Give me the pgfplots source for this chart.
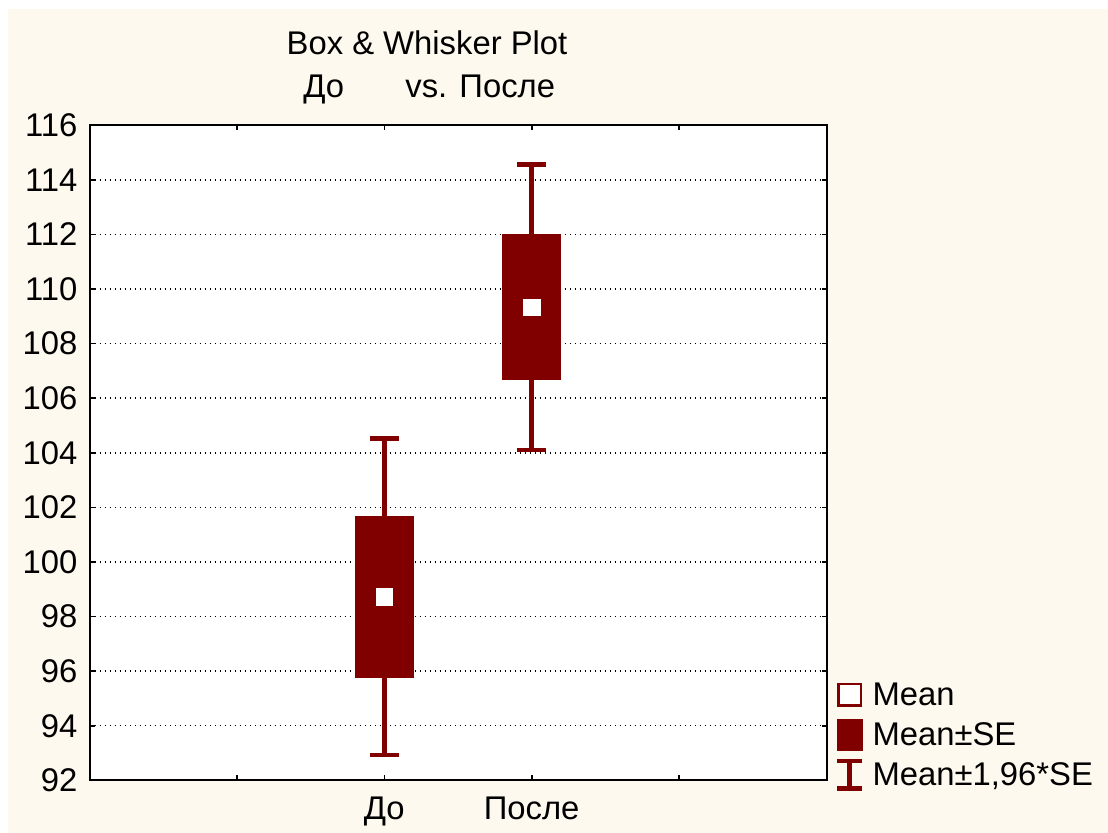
\documentclass[border=0pt]{standalone}
\usepackage{fontspec}
\setmainfont{Liberation Sans}
\usepackage{pgfplots}
\pgfplotsset{compat=1.18}
\definecolor{boxred}{RGB}{128,0,0}
\definecolor{panel}{RGB}{254,249,238}
\newcommand{\legstrut}{\rule[-4pt]{0pt}{16pt}}

\begin{document}
\begin{tikzpicture}[font=\fontsize{16.4}{19}\selectfont]
\path[use as bounding box] (0,0) rectangle (554pt,416.5pt);
\fill[panel] (4pt,0) rectangle (554pt,412pt);

% title
\node[anchor=base, inner sep=0pt] at (213.5pt,389pt) {Box \& Whisker Plot};
\node[anchor=base west, inner sep=0pt] at (151.5pt,367.5pt) {До};
\node[anchor=base west, inner sep=0pt] at (202.5pt,367.5pt) {vs. После};

\begin{axis}[
  at={(44.75pt,26.35pt)}, anchor=south west,
  scale only axis, width=368.5pt, height=327.5pt,
  axis background/.style={fill=white},
  xmin=0, xmax=5, ymin=92, ymax=116,
  xtick={1,2,3,4}, xticklabels={,До,После,},
  ytick={92,94,...,116},
  tick align=inside, major tick length=2.5pt,
  tick style={black, line width=0.8pt},
  axis line style={black, line width=1pt},
  ymajorgrids,
  grid style={black, line width=0.75pt, dash pattern=on 0.75pt off 1.75pt},
  /pgf/number format/assume math mode=true,
  ticklabel style={font=\fontsize{16.4}{19}\selectfont},
  yticklabel style={xshift=-2.5pt},
  xticklabel style={yshift=-5pt},
  legend style={at={(1,0)}, anchor=south west, xshift=4pt, yshift=-6.25pt,
    draw=none, fill=none, inner sep=0pt, row sep=2.5pt, column sep=2pt,
    font=\fontsize{16.4}{19}\selectfont},
  legend cell align=left,
]

\addlegendimage{legend image code/.code={
  \draw[boxred, line width=1.35pt, fill=white] (0.675pt,-5.4pt) rectangle (11.825pt,5.4pt);}}
\addlegendentry{\legstrut Mean}
\addlegendimage{legend image code/.code={
  \fill[boxred] (0,-7.75pt) rectangle (12.5pt,7.75pt);}}
\addlegendentry{\legstrut Mean±SE}
\addlegendimage{legend image code/.code={
  \draw[boxred, line width=2.3pt] (0,-6.85pt) -- (12.5pt,-6.85pt)
       (6.25pt,-6.85pt) -- (6.25pt,6.85pt) (0,6.85pt) -- (12.5pt,6.85pt);}}
\addlegendentry{\legstrut Mean±1,96*SE}

% whiskers: mean ± 1.96*SE
\addplot[forget plot, only marks, mark=none,
  error bars/.cd, y dir=both, y explicit,
  error bar style={draw=boxred, line width=2.3pt},
  error mark=|, error mark options={draw=boxred, line width=2.3pt, mark size=7.25pt}]
  coordinates {(2,98.72) +- (0,5.80) (3,109.33) +- (0,5.23)};
% boxes: mean ± SE
\addplot[forget plot, only marks, mark=none,
  error bars/.cd, y dir=both, y explicit,
  error bar style={draw=boxred, line width=29.3pt, line cap=butt},
  error mark=none]
  coordinates {(2,98.72) +- (0,2.96) (3,109.33) +- (0,2.67)};
% means
\addplot[forget plot, only marks, mark=square*, mark size=4.15pt,
  mark options={fill=white, draw=white, line width=0pt}]
  coordinates {(2,98.72) (3,109.33)};
\end{axis}
\end{tikzpicture}
\end{document}
